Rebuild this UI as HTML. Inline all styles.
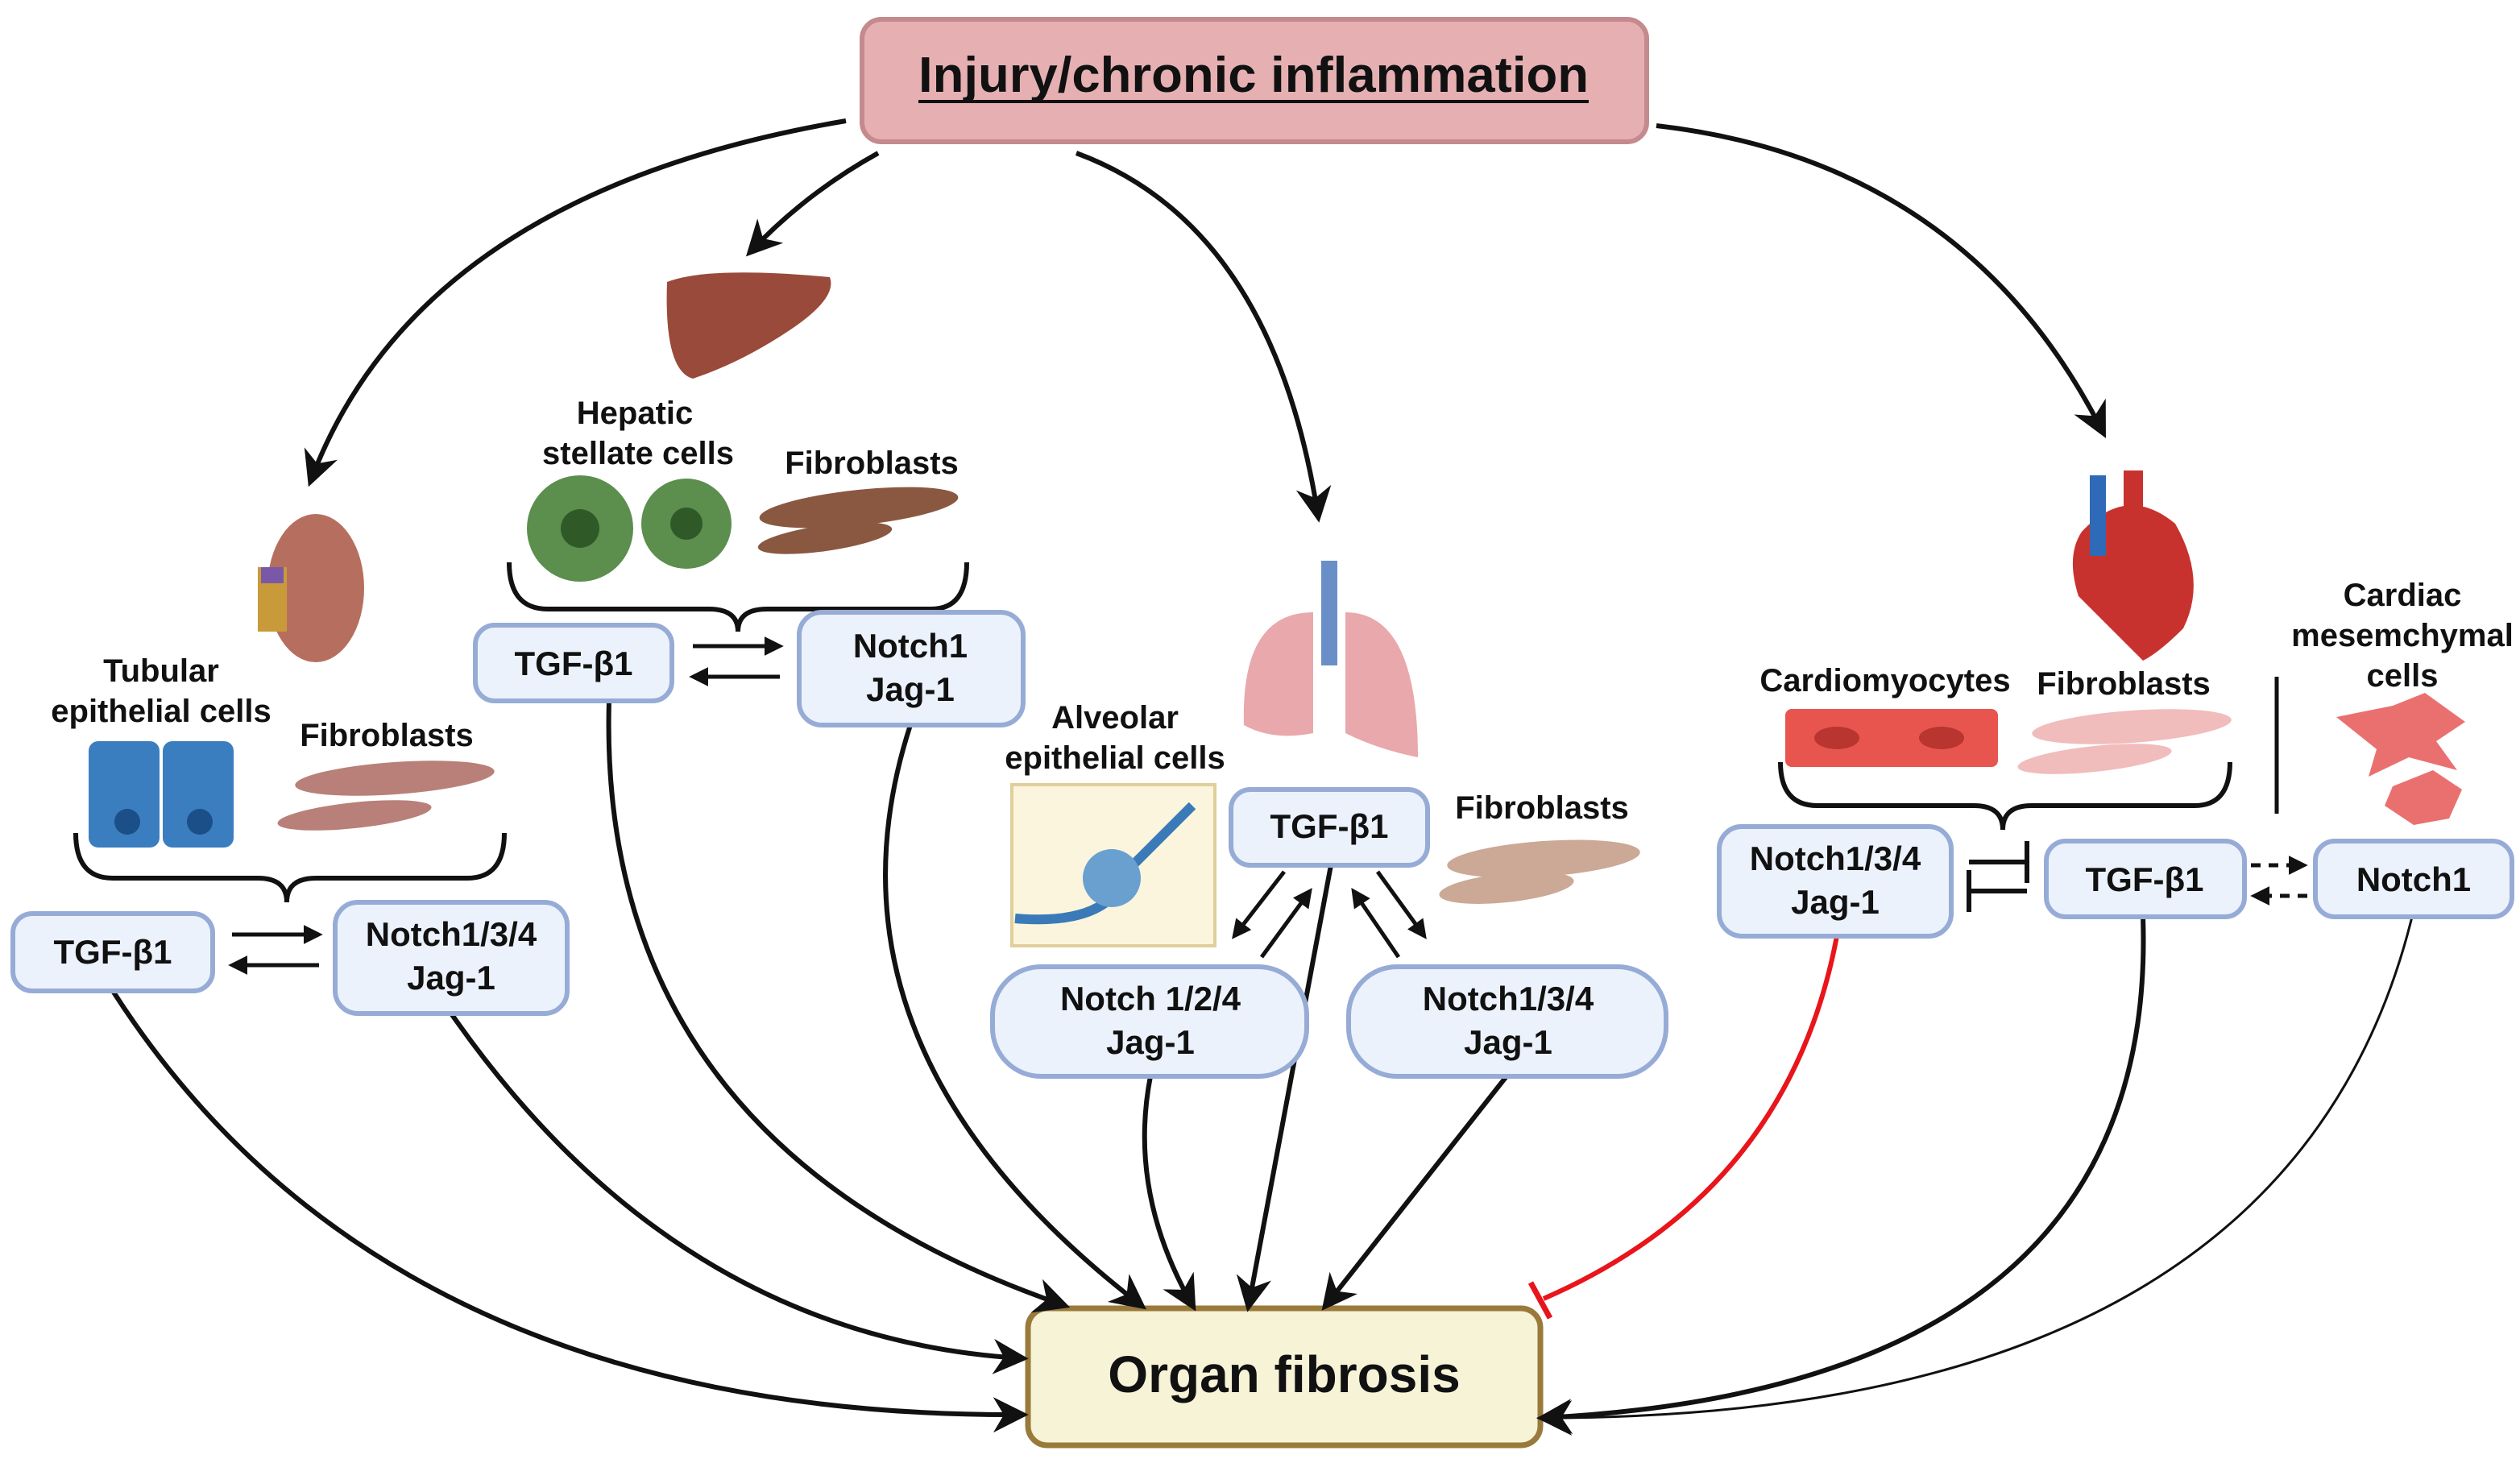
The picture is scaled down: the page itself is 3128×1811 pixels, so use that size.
<!DOCTYPE html>
<html><head><meta charset="utf-8"><style>
html,body{margin:0;padding:0;background:#fff;width:3128px;height:1811px;overflow:hidden}
svg{display:block}
text{font-family:"Liberation Sans",sans-serif;font-weight:bold;fill:#111}
</style></head><body>
<svg width="3128" height="1811" viewBox="0 0 1564 905.5" xmlns="http://www.w3.org/2000/svg">
<defs>
<marker id="A" viewBox="0 0 10 10" refX="8" refY="5" markerWidth="22" markerHeight="22" markerUnits="userSpaceOnUse" orient="auto"><path d="M0,0 L10,5 L0,10 L3,5 z" fill="#111"/></marker>
<marker id="s" viewBox="0 0 10 10" refX="8" refY="5" markerWidth="12" markerHeight="12" markerUnits="userSpaceOnUse" orient="auto"><path d="M0,0 L10,5 L0,10 z" fill="#111"/></marker>
</defs>
<style>.b{fill:#ecf2fb;stroke:#96acd6;stroke-width:3}.l{fill:none;stroke:#111;stroke-width:3}.t{font-size:21px}</style>

<rect x="535" y="12" width="487" height="76" rx="12" fill="#e6b0b3" stroke="#c48a8e" stroke-width="3"/>
<text x="778" y="57" font-size="31" text-anchor="middle" textLength="416" lengthAdjust="spacingAndGlyphs">Injury/chronic inflammation</text>
<line x1="570" y1="63" x2="986" y2="63" stroke="#111" stroke-width="2"/>
<rect x="638" y="812" width="318" height="85" rx="12" fill="#f6f3d7" stroke="#9a7a3a" stroke-width="3.5"/>
<text x="797" y="864" font-size="32" text-anchor="middle">Organ fibrosis</text>

<path class="l" d="M525,75 Q260,120 193,298" marker-end="url(#A)"/>
<path class="l" d="M545,95 Q500,120 466,156" marker-end="url(#A)"/>
<path class="l" d="M668,95 Q790,140 818,320" marker-end="url(#A)"/>
<path class="l" d="M1028,78 Q1220,100 1305,268" marker-end="url(#A)"/>

<path class="l" d="M70,615 Q240,880 634,878" marker-end="url(#A)"/>
<path class="l" d="M280,629 Q420,830 634,843" marker-end="url(#A)"/>
<path class="l" d="M378,435 Q370,710 660,810" marker-end="url(#A)"/>
<path class="l" d="M565,450 Q500,650 708,810" marker-end="url(#A)"/>
<path class="l" d="M714,668 Q700,740 740,810" marker-end="url(#A)"/>
<path class="l" d="M826,537 L775,810" marker-end="url(#A)"/>
<path class="l" d="M935,668 L823,810" marker-end="url(#A)"/>
<path d="M1140,581 Q1110,740 958,806" fill="none" stroke="#e8151b" stroke-width="3"/>
<line x1="950" y1="796" x2="962" y2="818" stroke="#e8151b" stroke-width="3.5"/>
<path class="l" d="M1330,569 Q1340,860 958,880" marker-end="url(#A)"/>
<path d="M1497,569 Q1420,880 958,880" fill="none" stroke="#111" stroke-width="1.5" marker-end="url(#A)"/>

<path class="l" d="M47,517 Q47,545 70,545 L160,545 Q178,545 178,560 Q178,545 196,545 L290,545 Q313,545 313,517"/>
<path class="l" d="M316,349 Q316,378 340,378 L440,378 Q458,378 458,392 Q458,378 476,378 L578,378 Q600,378 600,349"/>
<path class="l" d="M1105,473 Q1105,500 1128,500 L1225,500 Q1243,500 1243,515 Q1243,500 1261,500 L1362,500 Q1384,500 1384,473"/>
<line x1="1413" y1="420" x2="1413" y2="505" stroke="#111" stroke-width="2.5"/>

<rect class="b" x="8" y="567" width="124" height="48" rx="12"/><text class="t" x="70" y="598" text-anchor="middle">TGF-β1</text>
<rect class="b" x="208" y="560" width="144" height="69" rx="14"/><text class="t" x="280" y="587" text-anchor="middle">Notch1/3/4</text><text class="t" x="280" y="614" text-anchor="middle">Jag-1</text>
<rect class="b" x="295" y="388" width="122" height="47" rx="12"/><text class="t" x="356" y="419" text-anchor="middle">TGF-β1</text>
<rect class="b" x="496" y="380" width="139" height="70" rx="14"/><text class="t" x="565" y="408" text-anchor="middle">Notch1</text><text class="t" x="565" y="435" text-anchor="middle">Jag-1</text>
<rect class="b" x="764" y="490" width="122" height="47" rx="12"/><text class="t" x="825" y="520" text-anchor="middle">TGF-β1</text>
<rect class="b" x="616" y="600" width="195" height="68" rx="30"/><text class="t" x="714" y="627" text-anchor="middle">Notch 1/2/4</text><text class="t" x="714" y="654" text-anchor="middle">Jag-1</text>
<rect class="b" x="837" y="600" width="197" height="68" rx="30"/><text class="t" x="936" y="627" text-anchor="middle">Notch1/3/4</text><text class="t" x="936" y="654" text-anchor="middle">Jag-1</text>
<rect class="b" x="1067" y="513" width="144" height="68" rx="14"/><text class="t" x="1139" y="540" text-anchor="middle">Notch1/3/4</text><text class="t" x="1139" y="567" text-anchor="middle">Jag-1</text>
<rect class="b" x="1270" y="522" width="123" height="47" rx="12"/><text class="t" x="1331" y="553" text-anchor="middle">TGF-β1</text>
<rect class="b" x="1437" y="522" width="122" height="47" rx="12"/><text class="t" x="1498" y="553" text-anchor="middle">Notch1</text>

<line x1="144" y1="580" x2="198" y2="580" stroke="#111" stroke-width="2.5" marker-end="url(#s)"/>
<line x1="198" y1="599" x2="144" y2="599" stroke="#111" stroke-width="2.5" marker-end="url(#s)"/>
<line x1="430" y1="401" x2="484" y2="401" stroke="#111" stroke-width="2.5" marker-end="url(#s)"/>
<line x1="484" y1="420" x2="430" y2="420" stroke="#111" stroke-width="2.5" marker-end="url(#s)"/>
<line x1="797" y1="541" x2="766" y2="581" stroke="#111" stroke-width="2.5" marker-end="url(#s)"/>
<line x1="783" y1="594" x2="813" y2="553" stroke="#111" stroke-width="2.5" marker-end="url(#s)"/>
<line x1="855" y1="541" x2="884" y2="581" stroke="#111" stroke-width="2.5" marker-end="url(#s)"/>
<line x1="868" y1="594" x2="840" y2="553" stroke="#111" stroke-width="2.5" marker-end="url(#s)"/>
<path d="M1222,535 L1258,535 M1258,522 L1258,548 M1258,553 L1222,553 M1222,540 L1222,566" stroke="#111" stroke-width="3" fill="none"/>
<line x1="1397" y1="537" x2="1430" y2="537" stroke="#111" stroke-width="2.5" stroke-dasharray="6,5" marker-end="url(#s)"/>
<line x1="1432" y1="556" x2="1399" y2="556" stroke="#111" stroke-width="2.5" stroke-dasharray="6,5" marker-end="url(#s)"/>

<g font-size="20">
<text x="100" y="423" text-anchor="middle">Tubular</text>
<text x="100" y="448" text-anchor="middle">epithelial cells</text>
<text x="240" y="463" text-anchor="middle">Fibroblasts</text>
<text x="394" y="263" text-anchor="middle">Hepatic</text>
<text x="396" y="288" text-anchor="middle">stellate cells</text>
<text x="541" y="294" text-anchor="middle">Fibroblasts</text>
<text x="692" y="452" text-anchor="middle">Alveolar</text>
<text x="692" y="477" text-anchor="middle">epithelial cells</text>
<text x="957" y="508" text-anchor="middle">Fibroblasts</text>
<text x="1170" y="429" text-anchor="middle">Cardiomyocytes</text>
<text x="1318" y="431" text-anchor="middle">Fibroblasts</text>
<text x="1491" y="376" text-anchor="middle">Cardiac</text>
<text x="1491" y="401" text-anchor="middle">mesemchymal</text>
<text x="1491" y="426" text-anchor="middle">cells</text>
</g>

<ellipse cx="196" cy="365" rx="30" ry="46" fill="#b66f5f"/><rect x="160" y="352" width="18" height="40" fill="#c89a3a"/><rect x="162" y="352" width="14" height="10" fill="#7a58a8"/>
<rect x="55" y="460" width="44" height="66" rx="6" fill="#3b7ec0"/><rect x="101" y="460" width="44" height="66" rx="6" fill="#3b7ec0"/>
<circle cx="79" cy="510" r="8" fill="#1a4f87"/><circle cx="124" cy="510" r="8" fill="#1a4f87"/>
<g fill="#b88079"><ellipse cx="245" cy="483" rx="62" ry="10" transform="rotate(-4 245 483)"/><ellipse cx="220" cy="506" rx="48" ry="8" transform="rotate(-6 220 506)"/></g>
<g fill="#8a5840"><ellipse cx="533" cy="315" rx="62" ry="11" transform="rotate(-6 533 315)"/><ellipse cx="512" cy="334" rx="42" ry="8" transform="rotate(-8 512 334)"/></g>
<g fill="#cba996"><ellipse cx="958" cy="533" rx="60" ry="11" transform="rotate(-4 958 533)"/><ellipse cx="935" cy="551" rx="42" ry="9" transform="rotate(-6 935 551)"/></g>
<g fill="#f1bcbc"><ellipse cx="1323" cy="451" rx="62" ry="10" transform="rotate(-4 1323 451)"/><ellipse cx="1300" cy="471" rx="48" ry="8" transform="rotate(-6 1300 471)"/></g>
<path d="M414,175 Q440,165 515,172 Q520,185 490,205 Q460,225 430,235 Q412,230 414,175z" fill="#9a4a3a"/>
<circle cx="360" cy="328" r="33" fill="#5c8e4e"/><circle cx="360" cy="328" r="12" fill="#2f5a28"/>
<circle cx="426" cy="325" r="28" fill="#5c8e4e"/><circle cx="426" cy="325" r="10" fill="#2f5a28"/>
<rect x="820" y="348" width="10" height="65" fill="#6a8fc8"/>
<path d="M815,380 Q770,380 772,450 Q790,460 815,455z" fill="#e9a8ac"/>
<path d="M835,380 Q880,380 880,470 Q855,465 835,455z" fill="#e9a8ac"/>
<rect x="628" y="487" width="126" height="100" fill="#fbf5dd" stroke="#e0cf9a" stroke-width="2"/>
<path d="M630,570 Q690,575 700,540 Q720,520 740,500" stroke="#3a7ab8" stroke-width="6" fill="none"/>
<circle cx="690" cy="545" r="18" fill="#6aa0d0"/>
<path d="M1292,330 Q1320,300 1350,325 Q1370,360 1355,390 Q1340,405 1330,410 Q1300,380 1290,370 Q1282,345 1292,330z" fill="#c8322e"/>
<rect x="1297" y="295" width="10" height="50" fill="#2f6ab8"/><rect x="1318" y="292" width="12" height="30" fill="#c8322e"/>
<rect x="1108" y="440" width="132" height="36" rx="4" fill="#e8554f"/>
<ellipse cx="1140" cy="458" rx="14" ry="7" fill="#b83530"/><ellipse cx="1205" cy="458" rx="14" ry="7" fill="#b83530"/>
<path d="M1450,445 L1485,438 L1505,430 L1530,448 L1512,460 L1525,478 L1495,470 L1470,482 L1475,465z" fill="#ea7070"/>
<path d="M1485,488 L1510,478 L1528,490 L1520,508 L1498,512 L1480,500z" fill="#ea7070"/>
</svg>
</body></html>
